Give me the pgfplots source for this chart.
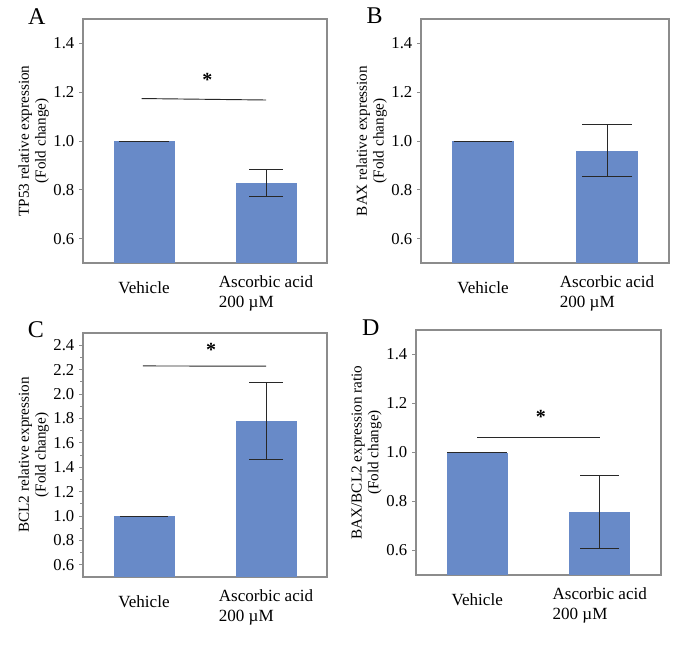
\documentclass[border=0pt]{standalone}
\usepackage{pgfplots}
\pgfplotsset{compat=1.18}
\usepackage{fontspec}
\setmainfont{Liberation Serif}
\definecolor{barblue}{RGB}{104,138,200}
\definecolor{framegray}{RGB}{140,140,140}
\definecolor{errgray}{RGB}{40,40,40}

\pgfplotsset{
 panel/.style={
  scale only axis, width=183pt, height=183pt,
  xmin=-0.5, xmax=1.5, ymin=0.5, ymax=1.5,
  axis line style={framegray, line width=0.8pt},
  xtick={0,1},
  xticklabels={{\rule{0pt}{13pt}Vehicle},{Ascorbic acid\\200 µM}},
  x tick style={draw=none},
  xticklabel style={align=left, font=\fontsize{12.8}{15}\selectfont, anchor=north, yshift=-3pt},
  ytick={0.6,0.8,1.0,1.2,1.4},
  yticklabel style={font=\fontsize{12.5}{14}\selectfont},
  /pgf/number format/assume math mode=true,
  /pgf/number format/fixed, /pgf/number format/fixed zerofill, /pgf/number format/precision=1,
  y tick style={framegray, line width=0.6pt},
  major tick length=3pt, minor tick length=2pt,
  tick align=outside, tickpos=left,
  every axis y label/.style={at={(axis description cs:0,0.5)}, xshift=-37pt, rotate=90, anchor=center, align=center, font=\fontsize{11.4}{12.5}\selectfont},
 },
 vbar/.style={ybar, bar width=0.5, bar shift=0pt, fill=barblue, draw=none,
   error bars/.cd, y dir=both, y explicit,
   error bar style={errgray, line width=0.65pt},
   error mark options={rotate=90, errgray, line width=0.65pt, mark size=#1}},
 sigline/.style={errgray, line width=0.7pt, no marks},
}

\begin{document}
\begin{tikzpicture}
\path (0,0) rectangle (513pt,484.5pt);

% Panel A
\begin{axis}[panel, at={(62.25pt,287.25pt)}, anchor=south west,
  ylabel={TP53 relative expression\\(Fold change)}]
\addplot[vbar=18.75pt] coordinates {(0,1.0) +- (0,0)};
\addplot[vbar=12.75pt] coordinates {(1,0.828) +- (0,0.056)};
\addplot[sigline] coordinates {(-0.02,1.174) (1.0,1.168)};
\node[font=\bfseries\fontsize{15}{15}\selectfont] at (axis cs:0.52,1.25) {*};
\end{axis}

% Panel B
\begin{axis}[panel, width=186pt, at={(315.75pt,287.25pt)}, anchor=south west,
  ylabel={BAX relative expression\\(Fold change)}]
\addplot[vbar=22pt] coordinates {(0,1.0) +- (0,0)};
\addplot[vbar=18.75pt] coordinates {(1,0.96) +- (0,0.107)};
\end{axis}

% Panel C
\begin{axis}[panel, at={(62.25pt,51.75pt)}, anchor=south west,
  ymin=0.5, ymax=2.5,
  ytick={0.6,0.8,1.0,1.2,1.4,1.6,1.8,2.0,2.2,2.4},
  minor y tick num=1,
  ylabel={BCL2 relative expression\\(Fold change)}]
\addplot[vbar=18pt] coordinates {(0,1.0) +- (0,0)};
\addplot[vbar=12.75pt] coordinates {(1,1.782) +- (0,0.316)};
\addplot[sigline] coordinates {(-0.01,2.23) (1.0,2.228)};
\node[font=\bfseries\fontsize{15}{15}\selectfont] at (axis cs:0.55,2.36) {*};
\end{axis}

% Panel D
\begin{axis}[panel, width=183.75pt, height=183.75pt, at={(312pt,53.25pt)}, anchor=south west,
  ylabel={BAX/BCL2 expression ratio\\(Fold change)}]
\addplot[vbar=22.5pt] coordinates {(0,1.0) +- (0,0)};
\addplot[vbar=14.6pt] coordinates {(1,0.758) +- (0,0.148)};
\addplot[sigline] coordinates {(0.0,1.061) (1.0,1.061)};
\node[font=\bfseries\fontsize{15}{15}\selectfont] at (axis cs:0.52,1.145) {*};
\end{axis}

% Panel letters
\node[font=\fontsize{18}{18}\selectfont] at (27.5pt,472pt) {A};
\node[font=\fontsize{18}{18}\selectfont] at (281pt,472.5pt) {B};
\node[font=\fontsize{18}{18}\selectfont] at (27pt,237pt) {C};
\node[font=\fontsize{18}{18}\selectfont] at (278pt,238.5pt) {D};
\end{tikzpicture}
\end{document}
